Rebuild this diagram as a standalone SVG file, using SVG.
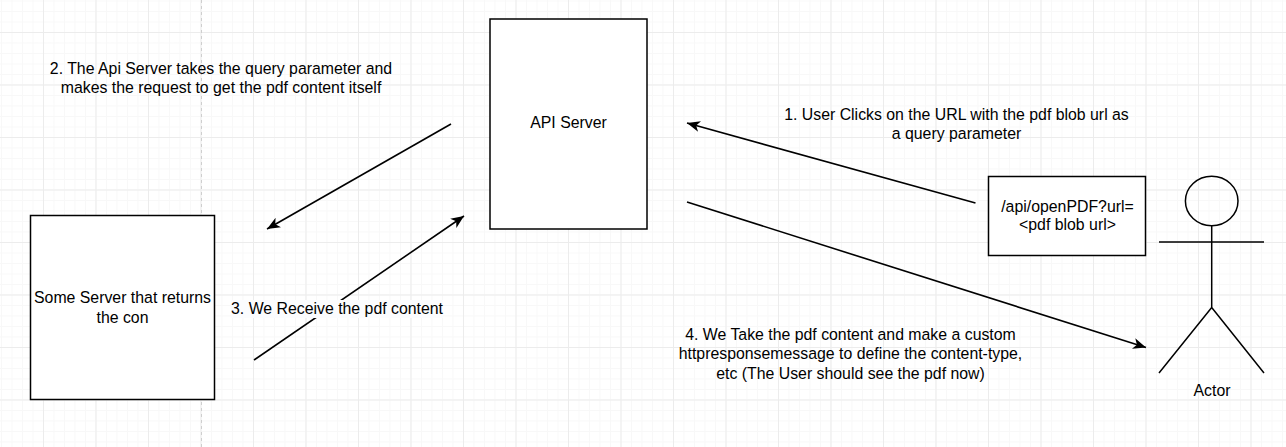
<svg xmlns="http://www.w3.org/2000/svg" width="1286" height="447" viewBox="0 0 1286 447">
  <style>
    text { font-family: "Liberation Sans", Arial, sans-serif; font-size: 15.85px; fill: #000; text-anchor: middle; }
    .box { fill: #fff; stroke: #000; stroke-width: 1.5; }
    .wire { fill: none; stroke: #000; stroke-width: 1.6; }
    .figure { fill: none; stroke: #000; stroke-width: 1.5; }
  </style>
  <defs>
    <pattern id="minor" x="1" y="0.500" width="10.5" height="10.5" patternUnits="userSpaceOnUse">
      <path d="M0.5 0V10.5M0 0.5H10.5" fill="none" stroke="#f8f8f8" stroke-width="1"/>
    </pattern>
    <pattern id="major" x="43" y="32" width="52.5" height="52.5" patternUnits="userSpaceOnUse">
      <path d="M0.5 0V52.5M0 0.5H52.5" fill="none" stroke="#ececec" stroke-width="1"/>
    </pattern>
    <marker id="head" markerWidth="14" markerHeight="12" refX="13" refY="6" orient="auto" markerUnits="userSpaceOnUse" viewBox="0 0 14 12">
      <path d="M0 0.500L13 6L0 11.500L3.500 6Z" fill="#000"/>
    </marker>
  </defs>

  <g id="canvas">
    <rect width="1286" height="447" fill="#fff"/>
    <rect width="1286" height="447" fill="url(#minor)"/>
    <rect width="1286" height="447" fill="url(#major)"/>
    <path d="M201.500 0V447" stroke="#cfcfcf" stroke-width="1" stroke-dasharray="3 3"/>
  </g>

  <g id="connectors">
    <path class="wire" marker-end="url(#head)" d="M975.500 203L687 123"/>
    <path class="wire" marker-end="url(#head)" d="M451 124L267 229"/>
    <path class="wire" marker-end="url(#head)" d="M254 360L464 216"/>
    <path class="wire" marker-end="url(#head)" d="M687 202L1146 347.500"/>
  </g>

  <g id="api-server">
    <rect class="box" x="490" y="19" width="157" height="210"/>
    <text x="568.500" y="128">API Server</text>
  </g>
  <g id="some-server">
    <rect class="box" x="30.500" y="215.500" width="184" height="184"/>
    <text x="122.500" y="303">Some Server that returns</text>
    <text x="122.500" y="323">the con</text>
  </g>
  <g id="url-box">
    <rect class="box" x="988.500" y="176.500" width="157" height="79"/>
    <text x="1067.500" y="212">/api/openPDF?url=</text>
    <text x="1067.500" y="230">&lt;pdf blob url&gt;</text>
  </g>
  <g id="actor">
    <ellipse class="figure" cx="1211.700" cy="201" rx="26.300" ry="24.800"/>
    <path class="figure" d="M1211.700 226V307.500M1159 242H1264M1211.700 307.500L1159 373M1211.700 307.500L1264 373"/>
    <text x="1212" y="396">Actor</text>
  </g>

  <g id="label-2">
    <text x="221" y="74">2. The Api Server takes the query parameter and</text>
    <text x="221" y="93">makes the request to get the pdf content itself</text>
  </g>
  <g id="label-1">
    <text x="956.500" y="120">1. User Clicks on the URL with the pdf blob url as</text>
    <text x="956.500" y="139">a query parameter</text>
  </g>
  <g id="label-3">
    <rect x="231" y="300" width="212" height="18" fill="#fbfcfe"/>
    <text x="337" y="314">3. We Receive the pdf content</text>
  </g>
  <g id="label-4">
    <text x="850.500" y="340">4. We Take the pdf content and make a custom</text>
    <text x="850.500" y="359">httpresponsemessage to define the content-type,</text>
    <text x="850.500" y="379">etc (The User should see the pdf now)</text>
  </g>
</svg>
